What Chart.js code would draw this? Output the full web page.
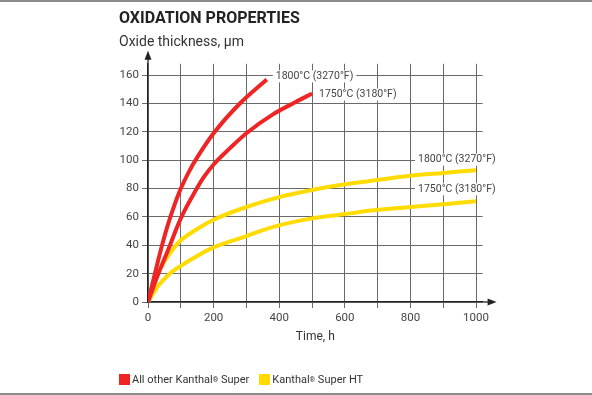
<!DOCTYPE html>
<html>
<head>
<meta charset="utf-8">
<script src="https://cdn.jsdelivr.net/npm/chart.js@4.4.1/dist/chart.umd.min.js"></script>
<style>
  html, body { margin: 0; padding: 0; background: #fff; }
  #wrap { position: relative; width: 592px; height: 395px; overflow: hidden; font-family: Roboto, "Noto Sans", sans-serif; }
  #chart { position: absolute; left: 0; top: 0; }
  .rule { position: absolute; left: 0; width: 592px; height: 2px; background: #8c8c8c; }
  #legend { position: absolute; left: 119px; top: 373px; font-size: 11px; color: #333; display: flex; align-items: center; }
  #legend .item { display: flex; align-items: center; margin-right: 10px; }
  #legend .box { width: 11px; height: 11px; margin-right: 2px; }
  #legend sup { font-size: 7px; vertical-align: 4px; }
</style>
</head>
<body>
<div id="wrap">
  <canvas id="chart" width="592" height="395"></canvas>
  <div class="rule" style="top:0"></div>
  <div class="rule" style="top:393px"></div>
  <div id="legend">
    <div class="item"><span class="box" style="background:#ee2524"></span>All other Kanthal<sup>®</sup>&nbsp;Super</div>
    <div class="item"><span class="box" style="background:#ffdb00"></span>Kanthal<sup>®</sup>&nbsp;Super HT</div>
  </div>
</div>
<script>
// valores (horas, espesor de óxido en µm)
const red1800Hours = [0, 20, 40, 60, 80, 100, 125, 150, 200, 280, 362];
const red1800Values = [0, 19, 37.5, 54, 68, 80, 92, 102, 119, 140, 157];
const red1750Hours = [0, 30, 60, 100, 140, 170, 200, 250, 300, 382, 450, 500];
const red1750Values = [0, 19, 36, 59, 76.5, 88, 97, 108.5, 119, 132.5, 141, 147];
const yellow1800Hours = [0, 30, 60, 80, 100, 150, 200, 300, 400, 500, 600, 700, 800, 900, 1000];
const yellow1800Values = [0, 20, 32, 38.5, 43.5, 51.5, 58, 67, 74, 79, 83, 86, 89, 91, 93];
const yellow1750Hours = [0, 30, 66, 100, 150, 200, 300, 382, 500, 600, 700, 800, 900, 1000];
const yellow1750Values = [0, 11, 20, 25.5, 32.5, 38.5, 46.5, 53, 59, 62, 65, 67, 69, 71];
const curveLabels = ['1800°C (3270°F)', '1750°C (3180°F)', '1800°C (3270°F)', '1750°C (3180°F)'];
const xGridValues = [0, 100, 200, 300, 400, 500, 600, 700, 800, 900, 1000];
const xTickLabels = [0, 200, 400, 600, 800, 1000];
const yTickValues = [0, 20, 40, 60, 80, 100, 120, 140, 160];

const RED = '#ee2524';
const YELLOW = '#ffdb00';

function toPoints(xs, ys) {
  return xs.map((x, i) => ({ x: x, y: ys[i] }));
}

// desplazamiento de la etiqueta respecto al último punto de cada curva (px)
const labelOffsets = [[9, -3], [7, 1], [-58, -10.5], [-58, -12]];

const curveLabelPlugin = {
  id: 'curveLabels',
  afterDatasetsDraw(chart) {
    const ctx = chart.ctx;
    ctx.save();
    ctx.font = '10.5px Roboto, "Noto Sans", sans-serif';
    ctx.textBaseline = 'middle';
    chart.data.datasets.forEach((ds, i) => {
      const meta = chart.getDatasetMeta(i);
      const last = meta.data[meta.data.length - 1];
      const x = last.x + labelOffsets[i][0];
      const y = last.y + labelOffsets[i][1];
      const w = ctx.measureText(curveLabels[i]).width;
      ctx.fillStyle = '#fff';
      ctx.fillRect(x - 3, y - 6, w + 6, 12);
      ctx.fillStyle = '#444';
      ctx.fillText(curveLabels[i], x, y);
    });
    ctx.restore();
  },
  afterDraw(chart) {
    const ctx = chart.ctx;
    const a = chart.chartArea;
    ctx.save();
    ctx.strokeStyle = '#222';
    ctx.fillStyle = '#222';
    ctx.lineWidth = 1.3;
    // flecha eje x
    ctx.beginPath();
    ctx.moveTo(a.right, a.bottom);
    ctx.lineTo(a.right + 8, a.bottom);
    ctx.stroke();
    ctx.beginPath();
    ctx.moveTo(a.right + 14, a.bottom);
    ctx.lineTo(a.right + 5, a.bottom - 3.5);
    ctx.lineTo(a.right + 5, a.bottom + 3.5);
    ctx.closePath();
    ctx.fill();
    // flecha eje y
    ctx.beginPath();
    ctx.moveTo(a.left, a.top);
    ctx.lineTo(a.left, a.top - 7);
    ctx.stroke();
    ctx.beginPath();
    ctx.moveTo(a.left, a.top - 13);
    ctx.lineTo(a.left - 3.5, a.top - 4);
    ctx.lineTo(a.left + 3.5, a.top - 4);
    ctx.closePath();
    ctx.fill();
    ctx.restore();
  }
};

window.addEventListener('DOMContentLoaded', function() {
  const ctx = document.getElementById('chart').getContext('2d');
  new Chart(ctx, {
    type: 'line',
    data: {
      datasets: [
        { label: 'red 1800', data: toPoints(red1800Hours, red1800Values), borderColor: RED },
        { label: 'red 1750', data: toPoints(red1750Hours, red1750Values), borderColor: RED },
        { label: 'yellow 1800', data: toPoints(yellow1800Hours, yellow1800Values), borderColor: YELLOW },
        { label: 'yellow 1750', data: toPoints(yellow1750Hours, yellow1750Values), borderColor: YELLOW }
      ]
    },
    options: {
      responsive: false,
      animation: false,
      events: [],
      elements: {
        point: { radius: 0 },
        line: { borderWidth: 4, cubicInterpolationMode: 'monotone', borderCapStyle: 'butt' }
      },
      layout: { padding: { left: 119, right: 109.4, top: 0, bottom: 51 } },
      plugins: {
        legend: { display: false },
        tooltip: { enabled: false },
        title: {
          display: true,
          text: 'OXIDATION PROPERTIES',
          align: 'start',
          color: '#222',
          font: { family: 'Roboto', size: 16, weight: 'bold' },
          padding: { top: 9.4, bottom: 0 }
        },
        subtitle: {
          display: true,
          text: 'Oxide thickness, µm',
          align: 'start',
          color: '#333',
          font: { family: 'Roboto', size: 14 },
          padding: { top: 5.6, bottom: 12.8 }
        }
      },
      scales: {
        x: {
          type: 'linear',
          min: 0,
          max: 1020,
          afterBuildTicks: s => { s.ticks = xGridValues.map(v => ({ value: v })); },
          afterFit: s => { s.height = 42; },
          ticks: {
            color: '#444',
            font: { family: 'Roboto', size: 11.5 },
            padding: 3,
            maxRotation: 0,
            autoSkip: false,
            callback: v => xTickLabels.includes(v) ? String(v) : ''
          },
          grid: { color: '#6a6a6a', lineWidth: 1, tickLength: 6, tickColor: '#6a6a6a' },
          border: { color: '#222', width: 1.3 },
          title: {
            display: true,
            text: 'Time, h',
            color: '#333',
            font: { family: 'Roboto', size: 12 },
            padding: { top: 2, bottom: 0 }
          }
        },
        y: {
          min: 0,
          max: 168,
          afterBuildTicks: s => { s.ticks = yTickValues.map(v => ({ value: v })); },
          afterFit: s => { s.width = 29; },
          ticks: {
            color: '#444',
            font: { family: 'Roboto', size: 11.5 },
            padding: 3,
            autoSkip: false,
            callback: v => String(v)
          },
          grid: { color: '#6a6a6a', lineWidth: 1, tickLength: 6, tickColor: '#6a6a6a' },
          border: { color: '#222', width: 1.3 }
        }
      }
    },
    plugins: [curveLabelPlugin]
  });
});
</script>
</body>
</html>
